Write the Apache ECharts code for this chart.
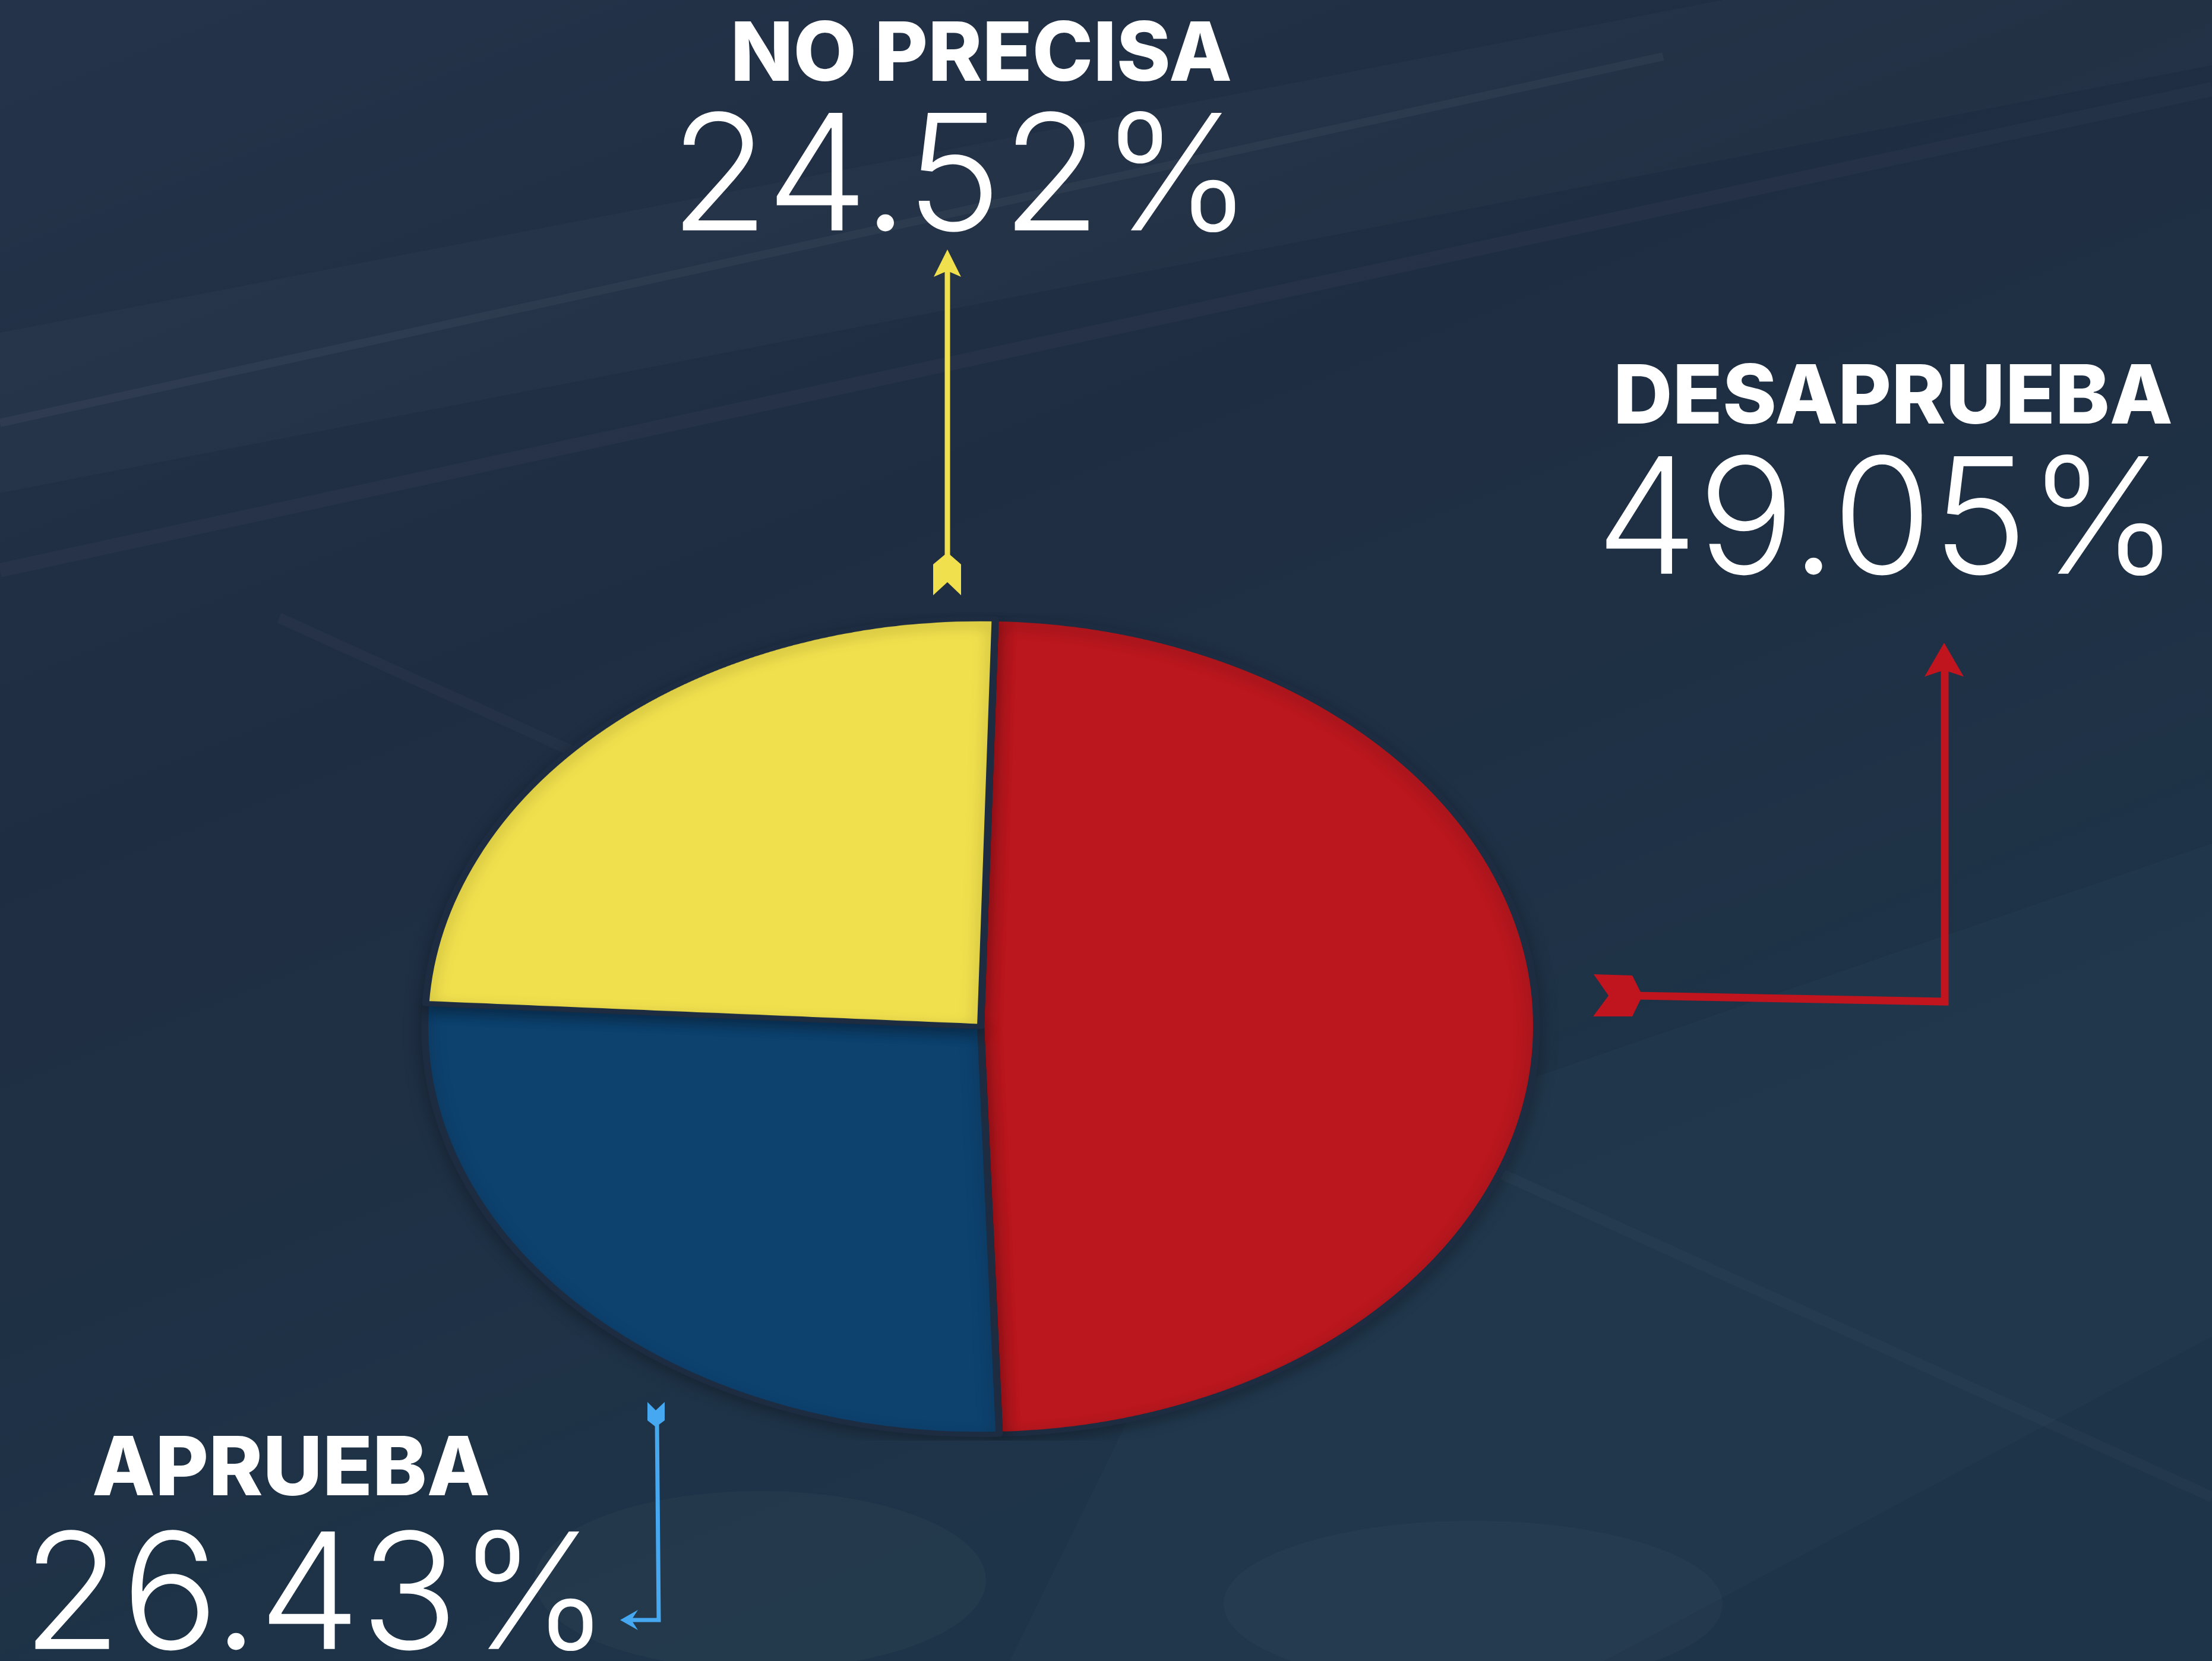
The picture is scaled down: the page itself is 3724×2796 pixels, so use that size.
<!DOCTYPE html>
<html>
<head>
<meta charset="utf-8">
<script src="https://cdn.jsdelivr.net/npm/echarts@6/dist/echarts.min.js"></script>
<style>
  html, body { margin: 0; padding: 0; background: #1f2d42; overflow: hidden; }
  #bg { position: absolute; left: 0; top: 0; width: 3724px; height: 2796px; }
  /* the pie is drawn round and squashed into an ellipse */
  #pie { position: absolute; left: 0; top: 778px; width: 3724px; height: 1900px;
         transform: scaleY(0.7336); transform-origin: 50% 50%; }
</style>
</head>
<body>
<div id="bg"></div>
<div id="pie"></div>
<script>
  // data
  const categories = ['DESAPRUEBA', 'APRUEBA', 'NO PRECISA'];
  const values = [49.05, 26.43, 24.52];

  const sliceColors = ['#ba171e', '#0d426f', '#f1e04d'];
  const arrowColors = ['#c0141f', '#45a8f0', '#f1e04d'];

  const pct = v => v.toFixed(2) + '%';
  const boldFont = '800 138px Inter, "Open Sans", sans-serif';
  const lightFont = '300 272px Inter, "Open Sans", sans-serif';

  let bgChart = echarts.init(document.getElementById('bg'));
  let pieChart = echarts.init(document.getElementById('pie'));

  // label blocks: name + percentage
  function labelBlock(i, nx, ny, px, py) {
    return [
      { type: 'text', z: 10, style: { text: categories[i], x: nx, y: ny, font: boldFont,
          fill: '#ffffff', align: 'center', verticalAlign: 'middle' } },
      { type: 'text', z: 10, style: { text: pct(values[i]), x: px, y: py, font: lightFont,
          fill: '#ffffff', align: 'center', verticalAlign: 'middle' } }
    ];
  }

  let deco = [
    { type: 'polygon', shape: { points: [[0, 560], [2900, 0], [3724, 0], [3724, 110], [0, 830]] },
      style: { fill: 'rgba(255,255,255,0.02)' } },
    { type: 'line', shape: { x1: 0, y1: 712, x2: 2800, y2: 95 },
      style: { stroke: 'rgba(255,255,255,0.04)', lineWidth: 14 } },
    { type: 'line', shape: { x1: 0, y1: 960, x2: 3724, y2: 150 },
      style: { stroke: 'rgba(255,255,255,0.025)', lineWidth: 24 } },
    { type: 'polygon', shape: { points: [[2100, 1980], [3724, 1420], [3724, 2250], [2700, 2796], [1700, 2796]] },
      style: { fill: 'rgba(110,160,180,0.04)' } },
    { type: 'line', shape: { x1: 470, y1: 1040, x2: 3724, y2: 2520 },
      style: { stroke: 'rgba(255,255,255,0.025)', lineWidth: 18 } },
    { type: 'ellipse', shape: { cx: 1280, cy: 2660, rx: 380, ry: 150 },
      style: { fill: 'rgba(170,180,180,0.045)' } },
    { type: 'ellipse', shape: { cx: 2480, cy: 2700, rx: 420, ry: 140 },
      style: { fill: 'rgba(170,180,180,0.04)' } }
  ];

  let arrows = [
    // NO PRECISA (yellow) arrow pointing up to its label
    { type: 'line', z: 5, shape: { x1: 1595, y1: 450, x2: 1595, y2: 945 },
      style: { stroke: arrowColors[2], lineWidth: 9 } },
    { type: 'polygon', z: 5, shape: { points: [[1595, 420], [1618, 466], [1595, 456], [1572, 466]] },
      style: { fill: arrowColors[2] } },
    { type: 'polygon', z: 5, shape: { points: [[1595, 930], [1618, 950], [1618, 1002], [1595, 980], [1571, 1002], [1571, 950]] },
      style: { fill: arrowColors[2] } },
    // DESAPRUEBA (red) arrow
    { type: 'polyline', z: 5, shape: { points: [[2755, 1676], [3274, 1686], [3274, 1125]] },
      style: { stroke: arrowColors[0], lineWidth: 13, fill: null, lineJoin: 'miter' } },
    { type: 'polygon', z: 5, shape: { points: [[3273, 1082], [3306, 1139], [3273, 1128], [3240, 1139]] },
      style: { fill: arrowColors[0] } },
    { type: 'polygon', z: 5, shape: { points: [[2683, 1640], [2748, 1642], [2765, 1676], [2748, 1711], [2682, 1711], [2708, 1676]] },
      style: { fill: arrowColors[0] } },
    // APRUEBA (blue) arrow
    { type: 'polyline', z: 5, shape: { points: [[1106, 2392], [1109, 2727], [1058, 2727]] },
      style: { stroke: arrowColors[1], lineWidth: 7, fill: null } },
    { type: 'polygon', z: 5, shape: { points: [[1044, 2727], [1074, 2710], [1063, 2727], [1074, 2744]] },
      style: { fill: arrowColors[1] } },
    { type: 'polygon', z: 5, shape: { points: [[1090, 2360], [1104, 2374], [1119, 2360], [1119, 2391], [1104, 2402], [1090, 2391]] },
      style: { fill: arrowColors[1] } }
  ];

  bgChart.setOption({
    backgroundColor: {
      type: 'linear', x: 0, y: 0, x2: 0.3, y2: 1,
      colorStops: [
        { offset: 0, color: '#25334a' },
        { offset: 0.45, color: '#1f2d42' },
        { offset: 1, color: '#1e3448' }
      ]
    },
    graphic: deco.concat(arrows)
      .concat(labelBlock(2, 1652, 95, 1618, 306))
      .concat(labelBlock(0, 3187, 672, 3178, 884))
      .concat(labelBlock(1, 490, 2476, 532, 2694))
  });

  pieChart.setOption({
    animation: false,
    series: [
      {
        type: 'pie',
        center: [1651, 950],
        radius: [0, 936],
        startAngle: 88.5,
        clockwise: true,
        label: { show: false },
        labelLine: { show: false },
        itemStyle: {
          borderColor: '#1d2c40',
          borderWidth: 12,
          shadowBlur: 30,
          shadowColor: 'rgba(0,0,0,0.25)',
          shadowOffsetY: 10
        },
        data: categories.map((c, i) => ({
          name: c,
          value: values[i],
          itemStyle: { color: sliceColors[i] }
        }))
      }
    ]
  });

  window.addEventListener('resize', () => {
    bgChart.resize();
    pieChart.resize();
  });
</script>
</body>
</html>
